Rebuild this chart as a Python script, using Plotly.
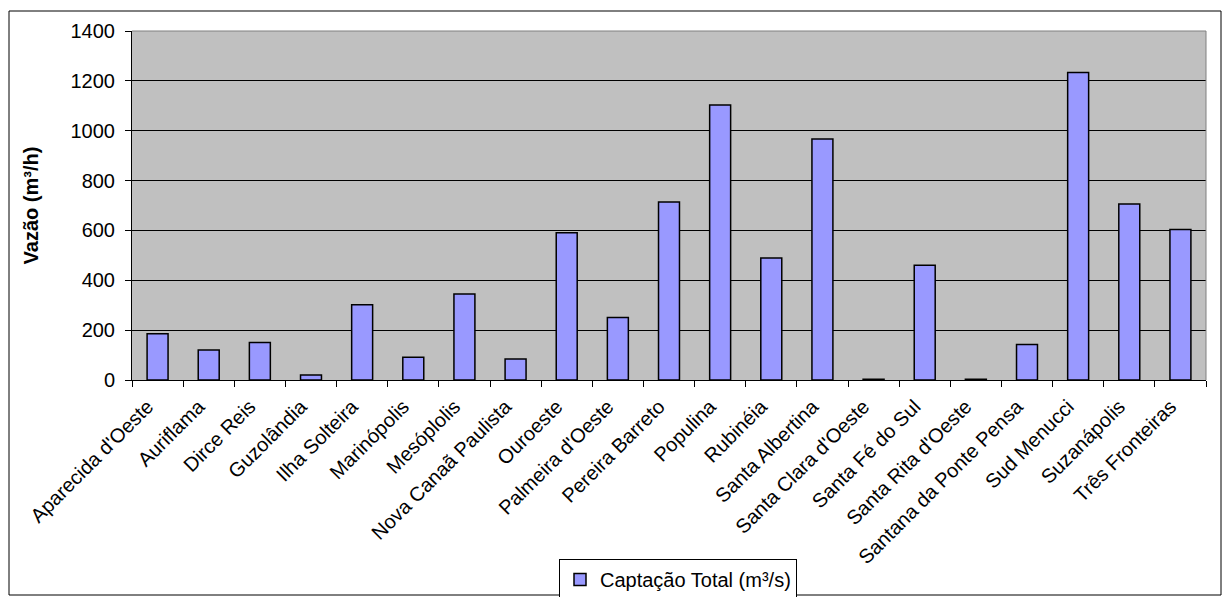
import plotly.graph_objects as go

municipios = [
    "Aparecida d'Oeste", "Auriflama", "Dirce Reis", "Guzolândia", "Ilha Solteira",
    "Marinópolis", "Mesóplolis", "Nova Canaã Paulista", "Ouroeste", "Palmeira d'Oeste",
    "Pereira Barreto", "Populina", "Rubinéia", "Santa Albertina", "Santa Clara d'Oeste",
    "Santa Fé do Sul", "Santa Rita d'Oeste", "Santana da Ponte Pensa", "Sud Menucci",
    "Suzanápolis", "Três Fronteiras",
]
captacao_total = [
    186, 120, 150, 20, 302,
    91, 345, 84, 591, 251,
    714, 1103, 489, 967, 3,
    460, 3, 142, 1234,
    706, 604,
]
y_ticks = [0, 200, 400, 600, 800, 1000, 1200, 1400]

FONT = "Liberation Sans, Arial, sans-serif"
FS = 20

fig = go.Figure()
fig.add_trace(go.Bar(
    x=municipios,
    y=captacao_total,
    name="Captação Total (m³/s)",
    marker=dict(color="#9999FF", line=dict(color="black", width=1.5)),
))

W, H = 1224, 597
L, R, T, B = 132, 18, 31, 217
pw, ph = W - L - R, H - T - B

def px_x(x):
    return (x - L) / pw

def px_y(y):
    return (H - B - y) / ph

fig.update_layout(
    width=W, height=H,
    margin=dict(l=L, r=R, t=T, b=B, autoexpand=False),
    paper_bgcolor="white",
    plot_bgcolor="#C0C0C0",
    bargap=0.59,
    font=dict(family=FONT, size=FS, color="black"),
    showlegend=True,
    legend=dict(
        x=px_x(559), y=px_y(559), xanchor="left", yanchor="top",
        bordercolor="black", borderwidth=1, bgcolor="white",
        font=dict(family=FONT, size=FS),
        itemwidth=30,
    ),
    xaxis=dict(
        tickangle=-45,
        ticks="outside", tickson="boundaries", ticklen=6, tickcolor="black",
        showline=True, linecolor="black", linewidth=1,
        showgrid=False,
        tickfont=dict(family=FONT, size=FS),
        ticklabelstandoff=6,
        ticklabelshift=-10,
        automargin=False,
    ),
    yaxis=dict(
        range=[0, 1400],
        tickvals=y_ticks,
        ticks="outside", ticklen=6, tickcolor="black",
        showline=True, linecolor="black", linewidth=1,
        showgrid=True, gridcolor="black", gridwidth=1,
        tickfont=dict(family=FONT, size=FS),
        ticklabelstandoff=6,
        title=dict(text="<b>Vazão (m³/h)</b>", font=dict(family=FONT, size=FS), standoff=26),
        zeroline=False,
        automargin=False,
    ),
)

# plot-area outline on top and right (grey)
fig.add_shape(type="line", xref="paper", yref="paper", x0=0, x1=1, y0=1, y1=1,
              line=dict(color="#808080", width=1))
fig.add_shape(type="line", xref="paper", yref="paper", x0=1, x1=1, y0=0, y1=1,
              line=dict(color="#808080", width=1))

# outer chart border
fig.add_shape(type="rect", xref="paper", yref="paper",
              x0=px_x(9), x1=px_x(1221), y0=px_y(595), y1=px_y(11),
              line=dict(color="black", width=1), layer="below")

fig.write_html("out.html")
